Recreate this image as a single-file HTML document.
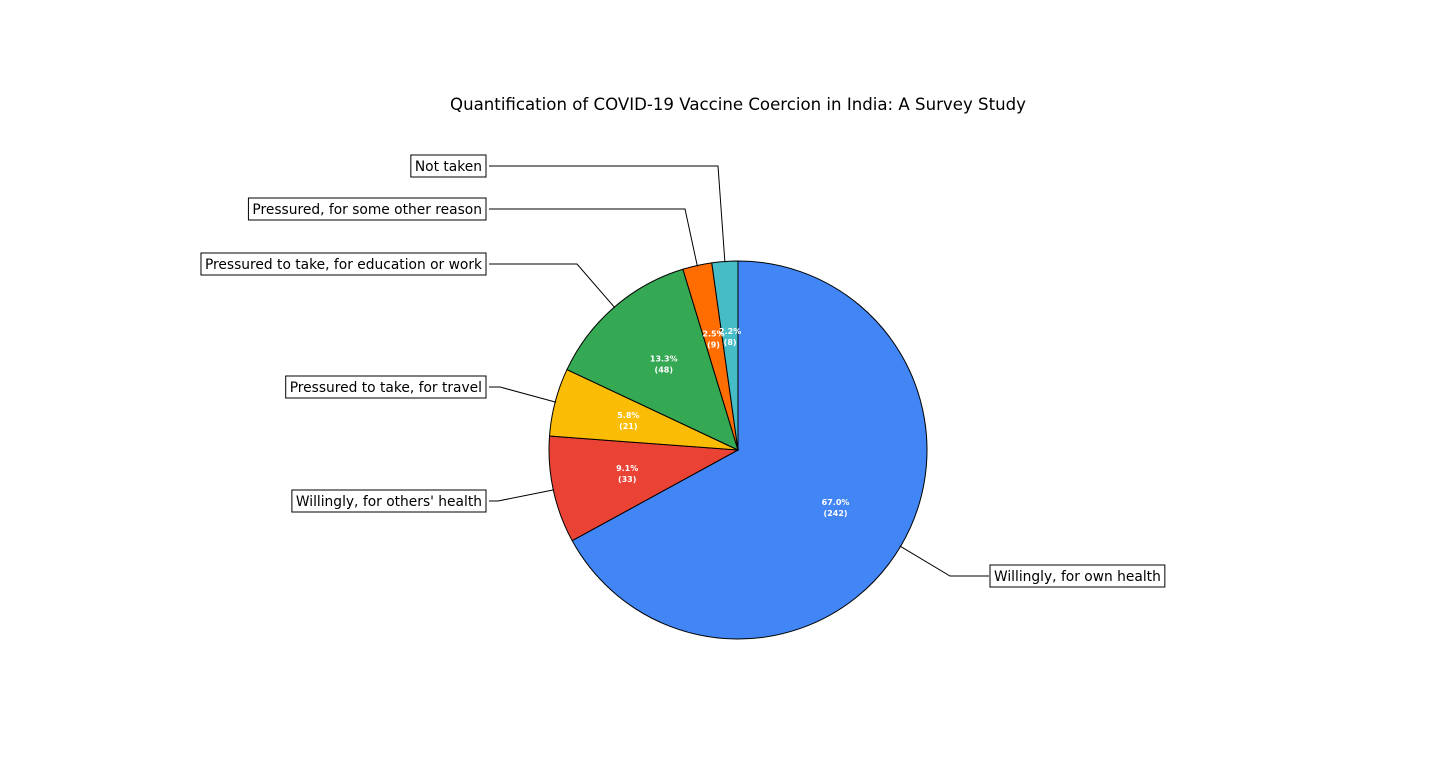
<!DOCTYPE html>
<html><head><meta charset="utf-8">
<style>
html,body{margin:0;padding:0;background:#fff;}
svg{display:block;font-family:"DejaVu Sans","Liberation Sans",sans-serif;}
</style></head>
<body>
<svg id="chart" width="1440" height="772" viewBox="0 0 1440 772">
<text x="738" y="110" text-anchor="middle" font-size="16.6" fill="#000">Quantification of COVID-19 Vaccine Coercion in India: A Survey Study</text>
</svg>
<script>
const categories = ["Willingly, for own health","Willingly, for others' health","Pressured to take, for travel","Pressured to take, for education or work","Pressured, for some other reason","Not taken"];
const counts = [242, 33, 21, 48, 9, 8];
const colors = ["#4285F4","#EA4335","#FBBC05","#34A853","#FF6D00","#46BDC6"];
const labelY = [576, 501, 387, 264, 209, 166];
const elbowX = [950, 498, 500, 577, 685, 718];
const boxSide = ["right","left","left","left","left","left"];

const NS = "http://www.w3.org/2000/svg";
const svg = document.getElementById("chart");
const cx = 738, cy = 450, R = 189;
const total = counts.reduce((a,b)=>a+b,0);
function pt(angDeg, r){ const a = angDeg*Math.PI/180; return [cx + r*Math.cos(a), cy - r*Math.sin(a)]; }
function mk(tag, attrs){ const e = document.createElementNS(NS, tag); for (const k in attrs) e.setAttribute(k, attrs[k]); svg.appendChild(e); return e; }

let start = 90;
const mids = [];
counts.forEach((v,i)=>{
  const sweep = v/total*360;
  const end = start - sweep;
  const [x1,y1] = pt(start,R), [x2,y2] = pt(end,R);
  const large = sweep > 180 ? 1 : 0;
  const p = mk("path", {d:`M${cx},${cy} L${x1},${y1} A${R},${R} 0 ${large} 1 ${x2},${y2} Z`, fill:colors[i], stroke:"#000", "stroke-width":1});
  
  
  mids.push(start - sweep/2);
  start = end;
});

counts.forEach((v,i)=>{
  const [tx,ty] = pt(mids[i], R*0.6);
  const pct = (v/total*100).toFixed(1) + "%";
  const t = mk("text", {x:tx, y:ty-3, "text-anchor":"middle", "font-size":8, "font-weight":"bold", fill:"#fff"});
  
  
  const s1 = document.createElementNS(NS,"tspan"); s1.setAttribute("x",tx); s1.textContent = pct; t.appendChild(s1);
  const s2 = document.createElementNS(NS,"tspan"); s2.setAttribute("x",tx); s2.setAttribute("dy","11"); s2.textContent = "(" + v + ")"; t.appendChild(s2);
});

categories.forEach((c,i)=>{
  const [px,py] = pt(mids[i], R*0.995);
  const ly = labelY[i];
  const right = boxSide[i] === "right";
  const lineEnd = right ? 989 : 489;
  const ln = mk("polyline", {points:`${px},${py} ${elbowX[i]},${ly} ${lineEnd},${ly}`, fill:"none", stroke:"#000", "stroke-width":1});
  
  
  const t = mk("text", {x:0, y:ly+5, "font-size":13.8, fill:"#000"});
  t.textContent = c;
  
  
  const w = t.getComputedTextLength();
  let tx = right ? 994 : 482 - w;
  t.setAttribute("x", tx);
  const box = document.createElementNS(NS,"rect");
  box.setAttribute("x", tx-4); box.setAttribute("y", ly-11);
  box.setAttribute("width", w+8); box.setAttribute("height", 22);
  box.setAttribute("fill","#fff"); box.setAttribute("stroke","#000"); box.setAttribute("stroke-width",1);
  
  
  svg.insertBefore(box, t);
});
</script>
</body></html>
